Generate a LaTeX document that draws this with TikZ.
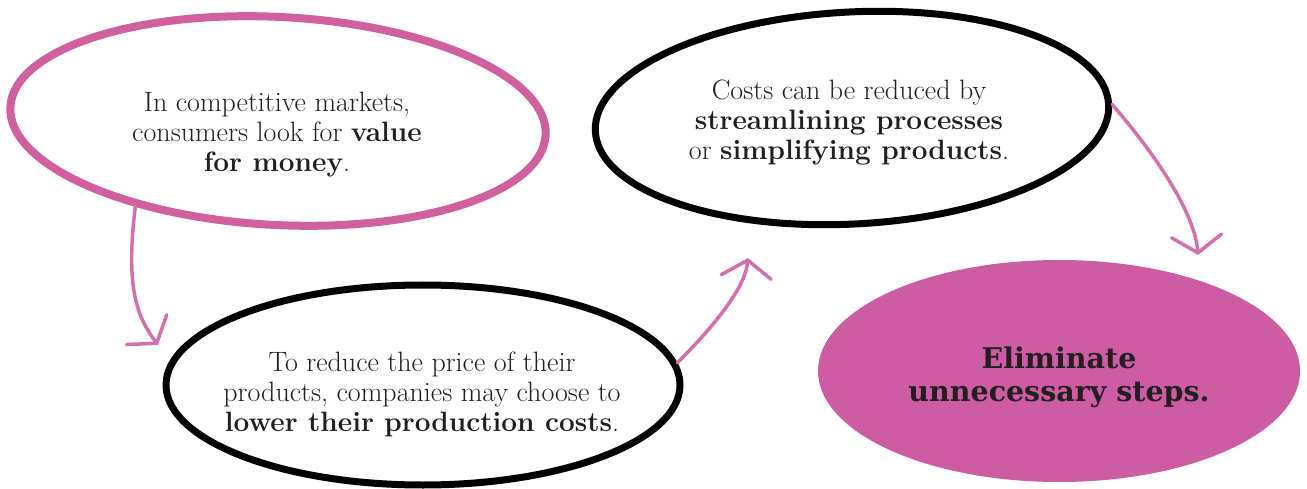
\documentclass[tikz,border=0pt]{standalone}
\usepackage{fontspec}
\usepackage{xcolor}
\usepackage{tikz}
\usetikzlibrary{shapes.geometric,arrows.meta}
\newfontfamily\slabbold{DejaVu Serif}
\definecolor{penpink}{RGB}{208,96,158}
\definecolor{fillpink}{RGB}{205,92,162}
\definecolor{arrowpink}{RGB}{214,112,172}
\definecolor{inkdark}{RGB}{35,31,32}

\begin{document}
\begin{tikzpicture}[x=1pt,y=-1pt,
  bubble/.style={ellipse,inner sep=0pt,line cap=round,line join=round},
  note/.style={align=center,text=inkdark,font=\fontsize{28}{30}\selectfont},
  flow/.style={draw=arrowpink,line width=3.5pt,line cap=round,
    -{Straight Barb[length=17pt,width=50pt,line cap=round]}}]
  \useasboundingbox (0,0) rectangle (1307,489);
  \node[bubble,draw=penpink,line width=8pt,minimum width=536pt,minimum height=208pt,rotate=-3] (e1) at (278,121) {};
  \node[bubble,draw=black,line width=7pt,minimum width=514pt,minimum height=200pt] (e2) at (423,385) {};
  \node[bubble,draw=black,line width=7pt,minimum width=514pt,minimum height=212pt,rotate=3] (e3) at (852,118) {};
  \node[bubble,fill=fillpink,minimum width=482pt,minimum height=222pt] (e4) at (1059,371) {};
  \node[note] (t1) at (277,135) {In competitive markets,\\consumers look for \textbf{value}\\\textbf{for money}.};
  \node[note] (t2) at (422,394) {To reduce the price of their\\products, companies may choose to\\\textbf{lower their production costs}.};
  \node[note] (t3) at (849,123) {Costs can be reduced by\\\textbf{streamlining processes}\\or \textbf{simplifying products}.};
  \node[align=center,text=inkdark,font=\slabbold\bfseries\fontsize{28.5}{33}\selectfont] (t4) at (1059,377) {Eliminate\\unnecessary steps.};
  \coordinate (tip1) at (158,345);
  \coordinate (tip2) at (748,258);
  \coordinate (tip3) at (1198,255);
  \draw[flow] (e1.214) .. controls (125,290) and (138,318) .. (tip1);
  \draw[flow] (e2.5) .. controls (710,330) and (745,290) .. (tip2);
  \draw[flow] (e3.0) .. controls (1160,160) and (1195,215) .. (tip3);
\end{tikzpicture}
\end{document}
